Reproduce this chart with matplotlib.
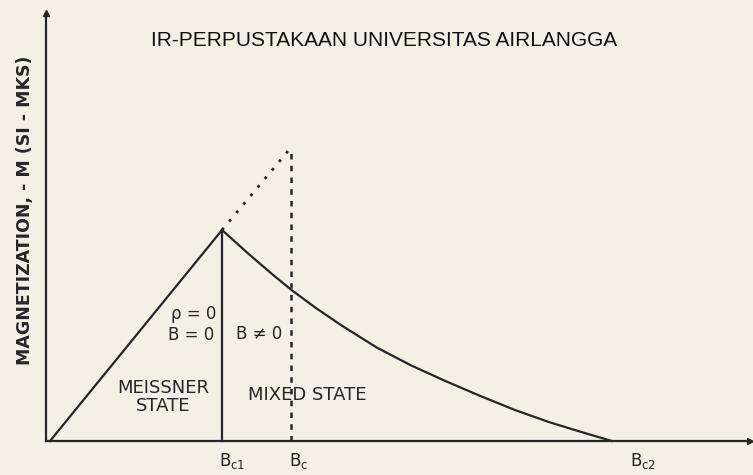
from matplotlib import pyplot as plt

# applied field H (in units of Bc1) and magnetization -M (in units of M at Bc1)
meissner_h = [0.0, 1.0]
meissner_m = [0.0, 1.0]

mixed_h = [1.0, 1.15, 1.30, 1.405, 1.55, 1.70, 1.90, 2.10,
           2.30, 2.50, 2.70, 2.90, 3.10, 3.267]
mixed_m = [1.0, 0.890, 0.785, 0.715, 0.628, 0.545, 0.443, 0.358,
           0.284, 0.214, 0.148, 0.090, 0.040, 0.0]

# extrapolated Meissner line up to the thermodynamic field Bc
bc_extrap_h = [1.0, 1.40]
bc_extrap_m = [1.0, 1.39]

bc1 = 1.0
bc = 1.40
bc2 = 3.267

field_labels = ['$\\mathsf{B_{c1}}$', '$\\mathsf{B_c}$', '$\\mathsf{B_{c2}}$']
field_label_x = [1.058, 1.448, 3.448]

ink = '#262626'
paper = '#f5f0e6'

fig = plt.figure(figsize=(7.53, 4.75), dpi=100)
fig.patch.set_facecolor(paper)
ax = fig.add_axes([0, 0, 1, 1])
ax.set_facecolor(paper)
ax.set_xlim(-0.2907, 4.087)
ax.set_ylim(-0.161, 2.090)
ax.axis('off')

# axes with arrow heads
ax.plot([-0.023, -0.023], [0.0, 2.02], color=ink, lw=1.6)
ax.plot([-0.023, 4.06], [0.0, 0.0], color=ink, lw=1.6)
ax.plot([-0.023], [2.03], marker='^', color=ink, markersize=4)
ax.plot([4.07], [0.0], marker='>', color=ink, markersize=4)

# magnetization curve
ax.plot(meissner_h, meissner_m, color=ink, lw=1.6)
ax.plot(mixed_h, mixed_m, color=ink, lw=1.6, solid_joinstyle='round')
ax.plot(bc_extrap_h, bc_extrap_m, color=ink, lw=2, linestyle=(0, (1, 3)))

# boundaries at Bc1 (solid) and Bc (dashed)
ax.plot([bc1, bc1], [0.0, 1.0], color=ink, lw=1.6)
ax.plot([bc, bc], [0.0, bc_extrap_m[-1]], color=ink, lw=1.8, linestyle=(0, (2.2, 2.5)))

txt = dict(color=ink, fontsize=12, family='DejaVu Sans')
ax.text(0.835, 0.602, '\u03c1 = 0', ha='center', va='center', **txt)
ax.text(0.820, 0.502, 'B = 0', ha='center', va='center', **txt)
ax.text(1.081, 0.505, 'B \u2260 0', ha='left', va='center', **txt)
ax.text(0.660, 0.249, 'MEISSNER', ha='center', va='center', fontsize=13,
        color=ink)
ax.text(0.660, 0.164, 'STATE', ha='center', va='center', fontsize=13,
        color=ink)
ax.text(1.497, 0.216, 'MIXED STATE', ha='center', va='center', fontsize=13,
        color=ink)

for x, label in zip(field_label_x, field_labels):
    ax.text(x, -0.095, label, ha='center', va='center', color=ink, fontsize=12)

ax.text(-0.145, 1.095, 'MAGNETIZATION, - M (SI - MKS)', rotation=90,
        ha='center', va='center', color=ink, fontsize=12.5, fontweight='bold')

ax.text(1.942, 1.896, 'IR-PERPUSTAKAAN UNIVERSITAS AIRLANGGA', ha='center',
        va='center', color='#111111', fontsize=15, family='Liberation Sans')

fig.savefig('out.png', dpi=100, facecolor=paper)
